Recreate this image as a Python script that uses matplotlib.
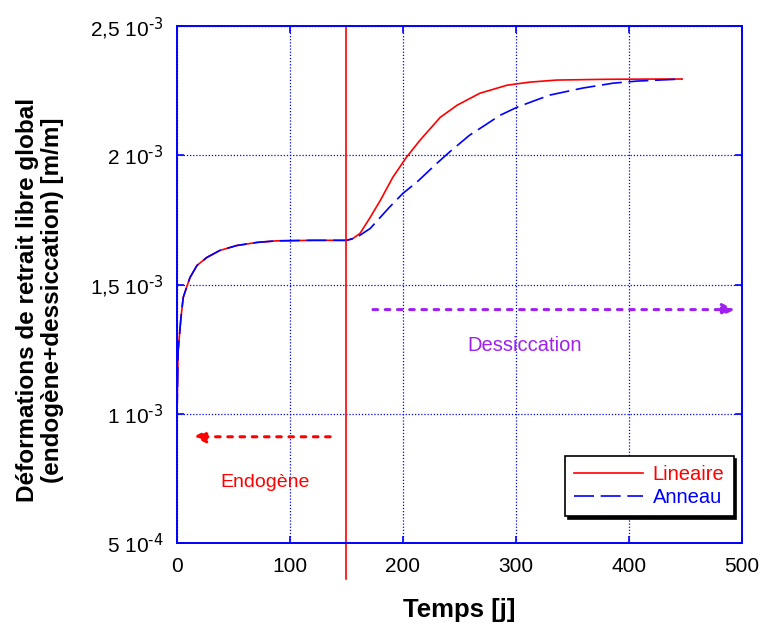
import matplotlib
matplotlib.use("Agg")
import matplotlib.pyplot as plt
from matplotlib.ticker import FixedLocator

plt.rcParams["font.family"] = ["Liberation Sans", "DejaVu Sans"]
plt.rcParams["mathtext.default"] = "regular"

# temps [j] / deformation [m/m]
t_endo = [0, 0.5, 1, 3.5, 5.5, 9, 11.5, 17.7, 26.5, 38, 53, 71, 88, 120, 150]
e_endo = [1.0e-3, 1.12e-3, 1.244e-3, 1.372e-3, 1.45e-3, 1.496e-3, 1.527e-3,
          1.574e-3, 1.605e-3, 1.632e-3, 1.651e-3, 1.663e-3, 1.669e-3,
          1.671e-3, 1.671e-3]

t_lin = [150, 155, 162, 171, 180, 191, 203, 215, 233, 248, 268, 292, 312, 336,
         380, 430, 447]
e_lin = [1.671e-3, 1.676e-3, 1.698e-3, 1.760e-3, 1.826e-3, 1.915e-3, 1.992e-3,
         2.058e-3, 2.147e-3, 2.194e-3, 2.240e-3, 2.271e-3, 2.283e-3, 2.291e-3,
         2.294e-3, 2.295e-3, 2.295e-3]

t_ann = [150, 159, 171, 188, 200, 212, 230, 241, 259, 271, 286, 301, 315, 330,
         359, 386, 407, 447]
e_ann = [1.671e-3, 1.682e-3, 1.717e-3, 1.799e-3, 1.853e-3, 1.895e-3, 1.969e-3,
         2.012e-3, 2.078e-3, 2.112e-3, 2.155e-3, 2.186e-3, 2.209e-3, 2.233e-3,
         2.260e-3, 2.279e-3, 2.287e-3, 2.295e-3]

t_switch = 150
yticks = [5e-4, 1e-3, 1.5e-3, 2e-3, 2.5e-3]
ytick_labels = ["5 10$^{\\text{-4}}$", "1 10$^{\\text{-3}}$",
                "1,5 10$^{\\text{-3}}$", "2 10$^{\\text{-3}}$",
                "2,5 10$^{\\text{-3}}$"]
xticks = [0, 100, 200, 300, 400, 500]

BLUE = "#0000ff"
RED = "#ff0000"
PURPLE = "#a020f0"

fig = plt.figure(figsize=(7.6, 6.32), dpi=100)
ax = fig.add_axes([0.2329, 0.1408, 0.7434, 0.818])

ax.plot(t_endo + t_lin[1:], e_endo + e_lin[1:], color=RED, lw=1.2,
        label="Lineaire")
ax.plot(t_endo + t_ann[1:], e_endo + e_ann[1:], color=BLUE, lw=1.2,
        dashes=(12, 4), label="Anneau")

# separation endogene / dessiccation
ax.plot([t_switch, t_switch], [2.5e-3, 0.36e-3], color=RED, lw=1.2,
        clip_on=False)

# arrows
ax.annotate("", xy=(12, 0.911e-3), xytext=(138, 0.911e-3),
            arrowprops=dict(arrowstyle="-|>", color=RED, lw=2.2,
                            linestyle=(0, (1.5, 2.5)), mutation_scale=18))
ax.text(78, 0.733e-3, "Endogène", color=RED, fontsize=14, ha="center",
        va="center")
ax.annotate("", xy=(496, 1.403e-3), xytext=(171, 1.403e-3),
            arrowprops=dict(arrowstyle="-|>", color=PURPLE, lw=2.2,
                            linestyle=(0, (1.5, 2.5)), mutation_scale=18))
ax.text(308, 1.264e-3, "Dessiccation", color=PURPLE, fontsize=14.5,
        ha="center", va="center")

ax.set_xlim(0, 500)
ax.set_ylim(5e-4, 2.5e-3)
ax.xaxis.set_major_locator(FixedLocator(xticks))
ax.set_yticks(yticks)
ax.set_yticklabels(ytick_labels)
ax.tick_params(direction="in", color=BLUE, length=5, width=1.2,
               labelsize=15, top=True, right=True, pad=10)
for s in ax.spines.values():
    s.set_color(BLUE)
    s.set_linewidth(1.4)
ax.grid(True, color=BLUE, linestyle=(0, (1, 1.5)), lw=0.9)

ax.set_xlabel("Temps [j]", fontsize=18.5, fontweight="bold", labelpad=16)
ax.set_ylabel("Déformations de retrait libre global\n(endogène+dessiccation) [m/m]",
              fontsize=17.5, fontweight="bold", linespacing=1.1)
ax.yaxis.set_label_coords(-0.2, 0.47)

leg = ax.legend(loc="lower right", bbox_to_anchor=(0.996, 0.04), fontsize=14.5,
                fancybox=False, shadow={"color": "black", "alpha": 1},
                edgecolor="black", framealpha=1, handlelength=3.4,
                borderpad=0.45, labelspacing=0.2, handletextpad=0.5,
                borderaxespad=0.3)
leg.get_frame().set_linewidth(1.2)
for txt, c in zip(leg.get_texts(), [RED, BLUE]):
    txt.set_color(c)

fig.savefig("out.png", dpi=100)
